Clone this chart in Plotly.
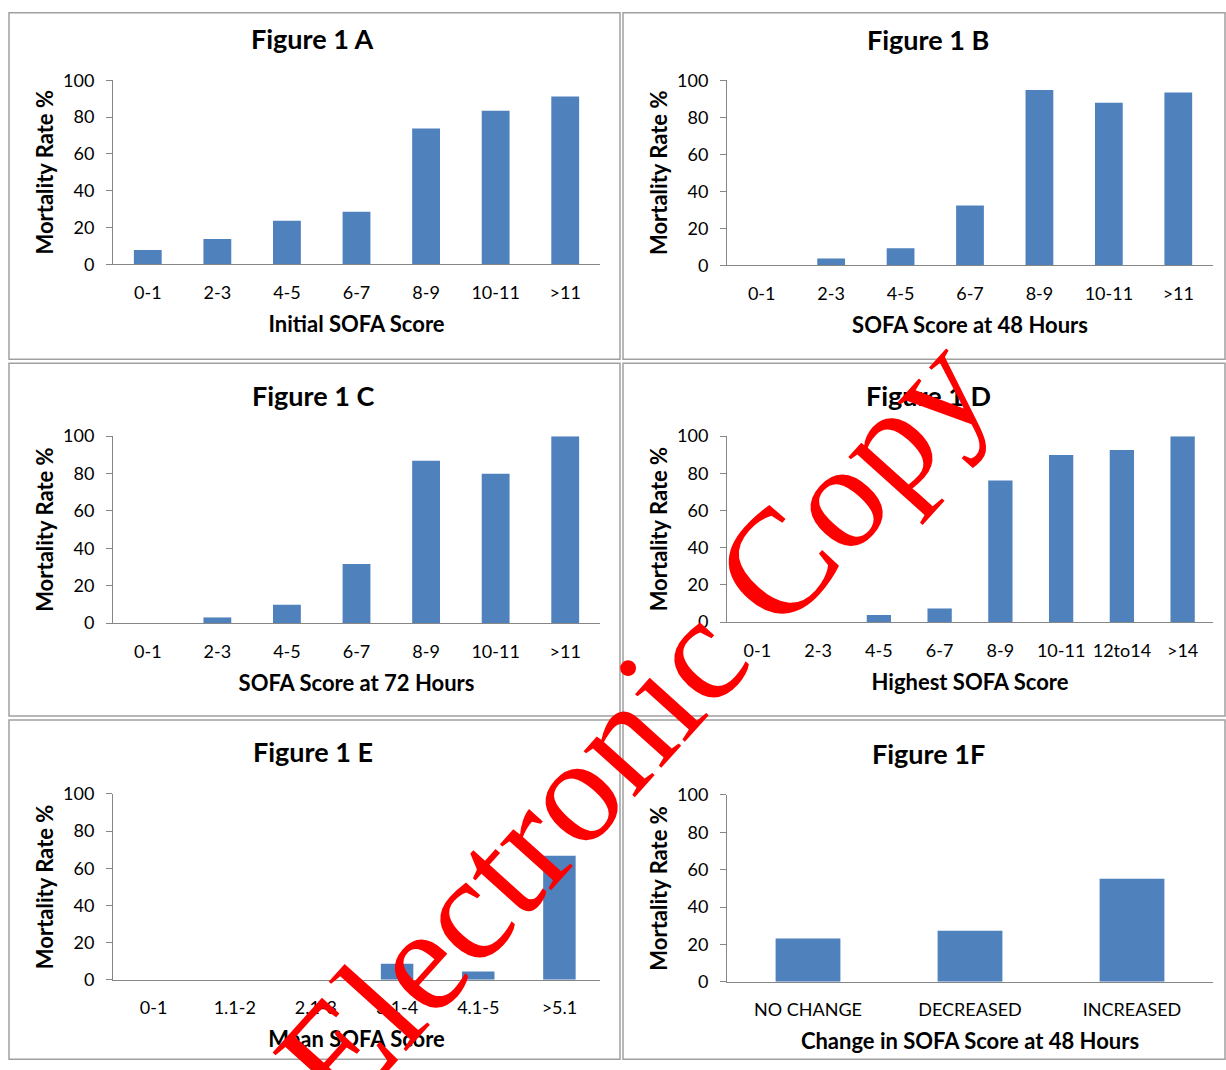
import plotly.graph_objects as go

# ---------------- data ----------------
cats_sofa = ["0-1", "2-3", "4-5", "6-7", "8-9", "10-11", ">11"]
vals_a = [7.8, 13.8, 23.7, 28.6, 73.8, 83.5, 91.2]
vals_b = [0, 3.6, 9.2, 32.3, 94.8, 87.9, 93.5]
vals_c = [0, 3.0, 9.8, 31.6, 86.9, 79.9, 100]
cats_d = ["0-1", "2-3", "4-5", "6-7", "8-9", "10-11", "12to14", ">14"]
vals_d = [0, 0, 3.8, 7.3, 76.1, 89.8, 92.5, 100]
cats_e = ["0-1", "1.1-2", "2.1-3", "3.1-4", "4.1-5", ">5.1"]
vals_e = [0, 0, 0, 8.6, 4.5, 66.8]
cats_f = ["NO CHANGE", "DECREASED", "INCREASED"]
vals_f = [23.2, 27.3, 55.2]

titles = ["Figure 1 A", "Figure 1 B", "Figure 1 C", "Figure 1 D", "Figure 1 E", "Figure 1F"]
xtitles = ["Initial SOFA Score", "SOFA Score at 48 Hours", "SOFA Score at 72 Hours",
           "Highest SOFA Score", "Mean SOFA Score", "Change in SOFA Score at 48 Hours"]
ytitle = "Mortality Rate %"
watermark = "Electronic Copy"

# ---------------- layout geometry (target pixels) ----------------
W, H = 1226, 1070
# plot areas: (x0, x1, ytop, ybottom)
areas = [(113, 600, 80, 264), (727, 1213, 80, 265),
         (113, 600, 436, 623), (727, 1213, 436, 622),
         (113, 600, 794, 980), (727, 1213, 795, 982)]
# panel borders: (x0, y0, x1, y1)
boxes = [(9, 6, 620, 359), (623, 7, 1225, 359),
         (9, 363, 620, 716), (623, 363, 1225, 716),
         (9, 720, 620, 1069), (623, 720, 1225, 1069)]
title_pos = [(313, 38), (928, 39), (313, 395), (928, 395), (313, 752), (928, 754)]

FONT = "Lato, 'Open Sans', sans-serif"
BAR = "#4F81BD"
AX = "#868686"

cats_all = [cats_sofa, cats_sofa, cats_sofa, cats_d, cats_e, cats_f]
vals_all = [vals_a, vals_b, vals_c, vals_d, vals_e, vals_f]

# vertical calibration of the photographed page
OFF, SC = 11.6, 0.98

fig = go.Figure()
layout = dict(width=W, height=H, margin=dict(l=0, r=0, t=0, b=0),
              paper_bgcolor="white", plot_bgcolor="white", showlegend=False,
              bargap=0.6, font=dict(family=FONT, color="#000000"))


def px2x(p):
    return p / W


def py2y(p):
    q = (p - OFF) / SC
    q = min(max(q, 0.8), H - 0.8)
    return 1 - q / H


annotations = []
shapes = []
for i in range(6):
    n = "" if i == 0 else str(i + 1)
    xa, ya = "x" + n, "y" + n
    fig.add_trace(go.Bar(x=cats_all[i], y=vals_all[i], xaxis=xa, yaxis=ya,
                         marker=dict(color=BAR, line=dict(width=0)),
                         hovertemplate="%{x}: %{y}<extra></extra>"))
    x0, x1, yt, yb = areas[i]
    layout["xaxis" + n] = dict(domain=[px2x(x0), px2x(x1)], anchor=ya, type="category",
                               showline=True, linecolor=AX, linewidth=1,
                               ticks="", showgrid=False, zeroline=False,
                               tickfont=dict(size=18, family=FONT, color="#000"),
                               ticklabelstandoff=12,
                               title=dict(text="<b>" + xtitles[i] + "</b>", standoff=14,
                                          font=dict(size=22, family=FONT, color="#000")),
                               fixedrange=True)
    layout["yaxis" + n] = dict(domain=[py2y(yb), py2y(yt)], anchor=xa, range=[0, 100],
                               dtick=20, showline=True, linecolor=AX, linewidth=1,
                               ticks="outside", ticklen=6, tickcolor=AX,
                               showgrid=False, zeroline=False,
                               tickfont=dict(size=18, family=FONT, color="#000"),
                               ticklabelstandoff=8,
                               title=dict(text="<b>" + ytitle + "</b>", standoff=3,
                                          font=dict(size=22, family=FONT, color="#000")),
                               fixedrange=True)
    tx, ty = title_pos[i]
    annotations.append(dict(text="<b>" + titles[i] + "</b>", x=px2x(tx), y=py2y(ty),
                            xref="paper", yref="paper", showarrow=False,
                            xanchor="center", yanchor="middle",
                            font=dict(size=27, family=FONT, color="#000")))
    bx0, by0, bx1, by1 = boxes[i]
    shapes.append(dict(type="rect", xref="paper", yref="paper",
                       x0=px2x(bx0), x1=px2x(bx1), y0=py2y(by1), y1=py2y(by0),
                       line=dict(color="#A0A0A0", width=1.5), layer="below"))

annotations.append(dict(text=watermark, x=px2x(632), y=py2y(724),
                        xref="paper", yref="paper", showarrow=False,
                        xanchor="center", yanchor="middle", textangle=-48,
                        font=dict(size=150, family="'Liberation Serif', 'Times New Roman', serif",
                                  color="#FF0000")))
layout["annotations"] = annotations
layout["shapes"] = shapes
fig.update_layout(**layout)

post = ("document.documentElement.style.margin='0';"
        "document.documentElement.style.overflow='hidden';"
        "document.body.style.margin='0';document.body.style.overflow='hidden';"
        "var gd=document.getElementById('{plot_id}');"
        "gd.style.position='fixed';gd.style.top='0px';gd.style.left='0px';")
fig.write_html("out.html", config={"displayModeBar": False}, post_script=post)
